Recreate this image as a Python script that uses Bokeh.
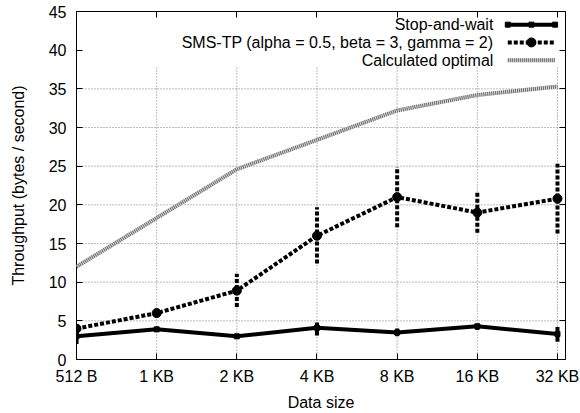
from bokeh.plotting import figure
from bokeh.models import Range1d, FixedTicker, LinearAxis, Label
from bokeh.embed import file_html
from bokeh.resources import INLINE

# ---- data ----
categories = ["512 B", "1 KB", "2 KB", "4 KB", "8 KB", "16 KB", "32 KB"]
saw_mean = [3.0, 3.9, 3.0, 4.1, 3.5, 4.3, 3.3]
saw_low = [2.0, 3.6, 2.7, 3.1, 3.0, 3.8, 2.3]
saw_high = [4.0, 4.2, 3.3, 4.8, 4.0, 4.6, 4.2]
sms_mean = [4.0, 6.0, 8.9, 16.0, 21.0, 19.0, 20.8]
sms_low = [3.6, 5.7, 6.8, 12.4, 17.1, 16.4, 16.3]
sms_high = [4.4, 6.3, 11.1, 19.7, 24.9, 21.6, 25.3]
optimal = [12.0, 18.3, 24.6, 28.4, 32.2, 34.2, 35.3]
y_ticks = [0, 5, 10, 15, 20, 25, 30, 35, 40, 45]
grid_y = [5, 10, 15, 20, 25, 30, 35]
series_names = ["Stop-and-wait", "SMS-TP (alpha = 0.5, beta = 3, gamma = 2)", "Calculated optimal"]

xs = list(range(len(categories)))
FONT = "Liberation Sans"
FS = "16px"

p = figure(width=580, height=413, x_range=Range1d(0, 6.1), y_range=Range1d(0, 45),
           output_backend="svg", toolbar_location=None,
           min_border_left=76, min_border_right=15, min_border_top=11, min_border_bottom=54)
p.background_fill_color = "white"
p.border_fill_color = "white"
p.outline_line_color = "black"
p.outline_line_width = 1
p.xgrid.visible = False
p.ygrid.visible = False

# axes
for ax in (p.xaxis[0], p.yaxis[0]):
    ax.axis_line_color = None
    ax.major_tick_in = 6
    ax.major_tick_out = 0
    ax.minor_tick_line_color = None
    ax.major_tick_line_color = "black"
    ax.major_label_text_font = FONT
    ax.major_label_text_font_size = FS
    ax.major_label_text_color = "black"
    ax.axis_label_text_font = FONT
    ax.axis_label_text_font_size = FS
    ax.axis_label_text_font_style = "normal"
    ax.axis_label_text_color = "black"

p.xaxis.ticker = FixedTicker(ticks=xs)
p.xaxis.major_label_overrides = {i: c for i, c in enumerate(categories)}
p.xaxis.axis_label = "Data size"
p.xaxis.major_label_standoff = 8
p.xaxis.axis_label_standoff = 6
p.yaxis.ticker = FixedTicker(ticks=y_ticks)
p.yaxis.axis_label = "Throughput (bytes / second)"
p.yaxis.major_label_standoff = 10
p.yaxis.axis_label_standoff = 19

# mirrored ticks
top = LinearAxis(ticker=FixedTicker(ticks=xs))
right = LinearAxis(ticker=FixedTicker(ticks=y_ticks))
for ax in (top, right):
    ax.axis_line_color = None
    ax.major_tick_in = 6
    ax.major_tick_out = 0
    ax.minor_tick_line_color = None
    ax.major_label_text_font_size = "1px"
    ax.major_label_text_color = None
    ax.major_label_standoff = 0
p.add_layout(top, "above")
p.add_layout(right, "right")

# grid (dotted), hidden behind the key area
GRID_TOP = 37.8
p.segment(x0=xs[1:], y0=[0] * (len(xs) - 1), x1=xs[1:], y1=[GRID_TOP] * (len(xs) - 1),
          line_color="#7a7a7a", line_width=1, line_dash="1 2")
p.segment(x0=[0] * len(grid_y), y0=grid_y, x1=[6.1] * len(grid_y), y1=grid_y,
          line_color="#7a7a7a", line_width=1, line_dash="1 2")

# calculated optimal (striped grey)
p.line(xs, optimal, line_color="#d8d8d8", line_width=4)
p.line(xs, optimal, line_color="#6a6a6a", line_width=4, line_dash="1 1")

# SMS-TP
p.segment(x0=xs, y0=sms_low, x1=xs, y1=sms_high, line_color="black", line_width=4, line_dash="4 2")
p.line(xs, sms_mean, line_color="black", line_width=4, line_dash="4 2")
p.scatter(xs, sms_mean, marker="circle", size=9, color="black")

# Stop-and-wait
p.segment(x0=xs, y0=saw_low, x1=xs, y1=saw_high, line_color="black", line_width=4)
p.line(xs, saw_mean, line_color="black", line_width=4)
p.scatter(xs, saw_mean, marker="square", size=5, color="black")

# key
key_y = [43.3, 41.0, 38.7]
key_text_x = 5.20
key_x0, key_x1 = 5.38, 5.97
for name, ky in zip(series_names, key_y):
    p.add_layout(Label(x=key_text_x, y=ky, text=name, text_align="right", text_baseline="middle",
                       text_font=FONT, text_font_size=FS, text_color="black"))
p.line([key_x0, key_x1], [key_y[0]] * 2, line_color="black", line_width=4)
p.scatter([key_x0, (key_x0 + key_x1) / 2, key_x1], [key_y[0]] * 3, marker="square", size=5, color="black")
p.line([key_x0, key_x1], [key_y[1]] * 2, line_color="black", line_width=4, line_dash="4 2")
p.scatter([(key_x0 + key_x1) / 2], [key_y[1]], marker="circle", size=9, color="black")
p.line([key_x0, key_x1], [key_y[2]] * 2, line_color="#d8d8d8", line_width=4)
p.line([key_x0, key_x1], [key_y[2]] * 2, line_color="#6a6a6a", line_width=4, line_dash="1 1")

open("out.html", "w").write(file_html(p, INLINE))
